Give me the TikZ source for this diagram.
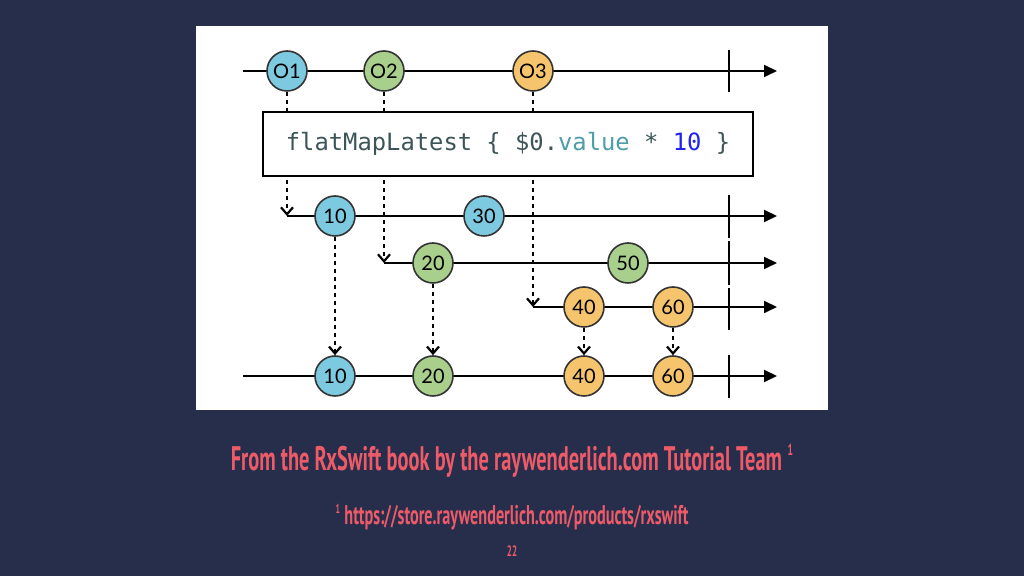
\documentclass[tikz,border=0pt]{standalone}
\usepackage{fontspec}
\setmainfont{Lato}
\newfontfamily\codefont{DejaVu Sans Mono}
\newfontfamily\capfont[FakeStretch=0.6]{PT Sans}
\usetikzlibrary{arrows.meta}
\definecolor{slide}{HTML}{272E4C}
\definecolor{rxblue}{HTML}{7DC9DF}
\definecolor{rxgreen}{HTML}{A8CF8C}
\definecolor{rxorange}{HTML}{F6C46C}
\definecolor{capred}{HTML}{EE5B68}
\definecolor{codegray}{HTML}{3D5558}
\definecolor{codeteal}{HTML}{4E9DAA}
\definecolor{codeblue}{HTML}{1E22F5}
\tikzset{
  marble/.style={circle, draw=black!80, line width=0.8pt, minimum size=20pt, inner sep=0pt,
    font=\fontsize{10}{10}\selectfont},
  timeline/.style={line width=0.9pt, -{Triangle[length=6.5pt,width=6pt]}},
  endmark/.style={line width=0.9pt},
  emit/.style={line width=1.1pt, dash pattern=on 2pt off 2pt, -{Straight Barb[length=3.5pt,width=6pt]}}
}
\begin{document}
\begin{tikzpicture}[x=0.5pt, y=-0.5pt]
  \fill[slide] (0,0) rectangle (1024,576);
  \fill[white] (196,26) rectangle (828,410);
  % timelines
  \coordinate (s0) at (243,71);  \coordinate (e0) at (777,71);
  \coordinate (s1) at (287,216); \coordinate (e1) at (777,216);
  \coordinate (s2) at (384,263); \coordinate (e2) at (777,263);
  \coordinate (s3) at (533,307); \coordinate (e3) at (777,307);
  \coordinate (s4) at (243,376); \coordinate (e4) at (777,376);
  \foreach \r in {0,...,4} \draw[timeline] (s\r) -- (e\r);
  \draw[endmark] (729,50) -- (729,92);
  \draw[endmark] (729,195) -- (729,238);
  \draw[endmark] (729,241) -- (729,285);
  \draw[endmark] (729,288) -- (729,330);
  \draw[endmark] (729,355) -- (729,398);
  % marbles
  \node[marble, fill=rxblue]   (o1) at (287,71) {O1};
  \node[marble, fill=rxgreen]  (o2) at (384,71) {O2};
  \node[marble, fill=rxorange] (o3) at (533,71) {O3};
  \node[marble, fill=rxblue]   (a10) at (335,216) {10};
  \node[marble, fill=rxblue]   (a30) at (484,216) {30};
  \node[marble, fill=rxgreen]  (b20) at (433,263) {20};
  \node[marble, fill=rxgreen]  (b50) at (628,263) {50};
  \node[marble, fill=rxorange] (c40) at (584,307) {40};
  \node[marble, fill=rxorange] (c60) at (673,307) {60};
  \node[marble, fill=rxblue]   (r10) at (335,376) {10};
  \node[marble, fill=rxgreen]  (r20) at (433,376) {20};
  \node[marble, fill=rxorange] (r40) at (584,376) {40};
  \node[marble, fill=rxorange] (r60) at (673,376) {60};
  % emissions
  \draw[emit] (o1.south) -- (s1);
  \draw[emit] (o2.south) -- (s2);
  \draw[emit] (o3.south) -- (s3);
  \draw[emit] (a10.south) -- (r10.north);
  \draw[emit] (b20.south) -- (r20.north);
  \draw[emit] (c40.south) -- (r40.north);
  \draw[emit] (c60.south) -- (r60.north);
  % operator
  \node[draw, line width=1pt, fill=white, minimum width=245pt, minimum height=32pt,
    font=\codefont\fontsize{11.9}{12}\selectfont] (op) at (508,144)
    {\textcolor{codegray}{flatMapLatest\ \{\ \$0.}\textcolor{codeteal}{value}\textcolor{codegray}{\ *\ }\textcolor{codeblue}{10}\textcolor{codegray}{\ \}}};
  % caption
  \node[text=capred, font=\capfont\bfseries\fontsize{17}{18}\selectfont] (cap) at (512,461)
    {From the RxSwift book by the raywenderlich.com Tutorial Team\,\raisebox{0.45em}{\fontsize{8}{8}\selectfont 1}};
  \node[text=capred, font=\capfont\bfseries\fontsize{13.5}{14}\selectfont] (note) at (512,517)
    {\raisebox{0.4em}{\fontsize{6.5}{7}\selectfont 1}\,https://store.raywenderlich.com/products/rxswift};
  \node[text=capred, font=\capfont\bfseries\fontsize{7.5}{8}\selectfont] (page) at (512,551) {22};
\end{tikzpicture}
\end{document}
